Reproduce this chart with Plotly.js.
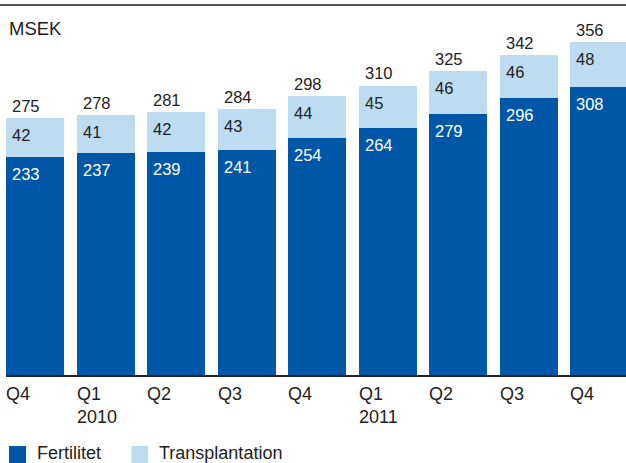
<!DOCTYPE html>
<html>
<head>
<meta charset="utf-8">
<script src="https://cdn.plot.ly/plotly-3.0.1.min.js"></script>
<style>html,body{margin:0;padding:0;background:#fff;}#chart{width:626px;height:463px;}</style>
</head>
<body>
<div id="chart"></div>
<script>
// Data
var quarters = ["Q4", "Q1", "Q2", "Q3", "Q4", "Q1", "Q2", "Q3", "Q4"];
var years = ["", "2010", "", "", "", "2011", "", "", ""];
var fertilitet = [233, 237, 239, 241, 254, 264, 279, 296, 308];
var transplantation = [42, 41, 42, 43, 44, 45, 46, 46, 48];
var totals = [275, 278, 281, 284, 298, 310, 325, 342, 356];
var seriesNames = ["Fertilitet", "Transplantation"];
var unitLabel = "MSEK";

var darkBlue = "#0057a8";
var lightBlue = "#bddcf2";
var textDark = "#222222";
var FONT = "Liberation Sans, Arial, sans-serif";

var W = 626, H = 463;
var mL = 6, mR = 0, mT = 20, mB = 88;
var plotW = W - mL - mR, plotH = H - mT - mB;
function px2paperX(px) { return (px - mL) / plotW; }
function px2paperY(py) { return (H - mB - py) / plotH; }

var idx = quarters.map(function (_, i) { return i; });

var traces = [
  { type: "bar", x: idx, y: fertilitet, name: seriesNames[0],
    marker: { color: darkBlue, line: { width: 0 } }, hoverinfo: "skip" },
  { type: "bar", x: idx, y: transplantation, name: seriesNames[1],
    marker: { color: lightBlue, line: { width: 0 } }, hoverinfo: "skip" }
];

var annotations = [];
idx.forEach(function (i) {
  annotations.push({ xref: "x", yref: "y", x: i, y: totals[i], text: String(totals[i]),
    xanchor: "left", yanchor: "bottom", xshift: -25, yshift: 1, showarrow: false,
    font: { family: FONT, size: 16.5, color: textDark } });
  annotations.push({ xref: "x", yref: "y", x: i, y: fertilitet[i] + transplantation[i], text: String(transplantation[i]),
    xanchor: "left", yanchor: "top", xshift: -25, yshift: -6, showarrow: false,
    font: { family: FONT, size: 16.5, color: textDark } });
  annotations.push({ xref: "x", yref: "y", x: i, y: fertilitet[i], text: String(fertilitet[i]),
    xanchor: "left", yanchor: "top", xshift: -25, yshift: -6, showarrow: false,
    font: { family: FONT, size: 16.5, color: "#ffffff" } });
  var lbl = quarters[i] + (years[i] ? "<br>" + years[i] : "");
  annotations.push({ xref: "x", yref: "paper", x: i, y: 0, text: lbl, align: "left",
    xanchor: "left", yanchor: "top", xshift: -31, yshift: -7, showarrow: false,
    font: { family: FONT, size: 18, color: textDark } });
});

annotations.push({ xref: "paper", yref: "paper", x: 0, y: 1, text: unitLabel,
  xanchor: "left", yanchor: "top", xshift: 1, yshift: 4, showarrow: false,
  font: { family: FONT, size: 18.5, color: textDark } });

// legend
annotations.push({ xref: "paper", yref: "paper", x: px2paperX(35), y: px2paperY(441), text: seriesNames[0],
  xanchor: "left", yanchor: "top", showarrow: false, font: { family: FONT, size: 18, color: textDark } });
annotations.push({ xref: "paper", yref: "paper", x: px2paperX(157), y: px2paperY(441), text: seriesNames[1],
  xanchor: "left", yanchor: "top", showarrow: false, font: { family: FONT, size: 18, color: textDark } });

var shapes = [
  { type: "rect", xref: "paper", yref: "paper", x0: px2paperX(9), x1: px2paperX(26),
    y0: px2paperY(446), y1: px2paperY(464), fillcolor: darkBlue, line: { width: 0 } },
  { type: "rect", xref: "paper", yref: "paper", x0: px2paperX(131.5), x1: px2paperX(148),
    y0: px2paperY(446), y1: px2paperY(464), fillcolor: lightBlue, line: { width: 0 } },
  { type: "line", xref: "paper", yref: "paper", x0: px2paperX(0), x1: px2paperX(626),
    y0: px2paperY(5), y1: px2paperY(5), line: { color: "#555555", width: 2 } }
];

var layout = {
  width: W, height: H,
  margin: { l: mL, r: mR, t: mT, b: mB, pad: 0 },
  paper_bgcolor: "#ffffff", plot_bgcolor: "#ffffff",
  barmode: "stack", bargap: 0.178,
  showlegend: false,
  xaxis: { range: [-0.411, 8.376], showticklabels: false, ticks: "", showgrid: false, zeroline: false,
    showline: true, linecolor: "#222222", linewidth: 2, fixedrange: true },
  yaxis: { range: [0, plotH / 0.935], showticklabels: false, ticks: "", showgrid: false, zeroline: false,
    showline: false, fixedrange: true },
  annotations: annotations,
  shapes: shapes,
  font: { family: FONT }
};

Plotly.newPlot("chart", traces, layout, { staticPlot: true, displayModeBar: false });
</script>
</body>
</html>
